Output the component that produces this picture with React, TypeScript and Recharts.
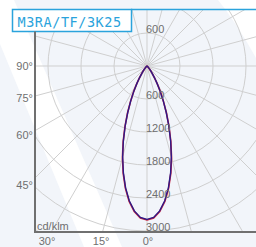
import React from "react";
import {
  PolarAngleAxis,
  PolarGrid,
  PolarRadiusAxis,
  Radar,
  RadarChart,
} from "recharts";

// gamma angles (deg from nadir) and intensities in cd/klm
const gammaDeg = [
  0, 2.5, 5, 7.5, 10, 12.5, 15, 17.5, 20, 22.5, 25, 27.5, 30, 32.5, 35, 37.5,
  40, 42.5, 45, 50, 55, 60, 90, 120, 150, 180,
];
const c0c180 = [
  2800, 2765, 2655, 2485, 2260, 2000, 1725, 1440, 1170, 925, 705, 525, 375,
  260, 170, 110, 65, 40, 22, 6, 1, 0, 0, 0, 0, 0,
];
const c90c270 = [
  2790, 2755, 2645, 2470, 2245, 1985, 1710, 1430, 1160, 915, 700, 520, 370,
  255, 168, 108, 64, 38, 21, 6, 1, 0, 0, 0, 0, 0,
];

const spokeAngles = [
  0, 15, 30, 45, 60, 75, 90, 105, 120, 135, 150, 165, 180, 195, 210, 225, 240,
  255, 270, 285, 300, 315, 330, 345,
];
const radiusTicks = [0, 600, 1200, 1800, 2400, 3000, 3600, 4200];
const sideAngleLabels = [90, 75, 60, 45];
const bottomAngleLabels = [30, 15, 0];
const title = "M3RA/TF/3K25";
const unitLabel = "cd/klm";

const rows = [
  ...gammaDeg.map((g, i) => ({ angle: g, c0: c0c180[i], c90: c90c270[i] })),
  ...gammaDeg
    .map((g, i) => ({ angle: 360 - g, c0: c0c180[i], c90: c90c270[i] }))
    .slice(1, -1)
    .reverse(),
];

// geometry of the frame (page px)
const CX = 147;
const CY = 66;
const PLOT = { left: 35, top: 10, right: 256, bottom: 232 };
const SIZE = 480;
const OUTER = 231;

const font = "'Liberation Sans', Arial, sans-serif";
const textGray = "#6f6f6f";

// radius labels go down the 0° spoke and are repeated upward;
// only the ones that land inside the frame are drawn
const RadiusTick = (props: any) => {
  const v = props.payload?.value;
  if (!v) return <g />;
  const toPage = CY - SIZE / 2;
  const downY = props.y;
  const upY = SIZE - props.y;
  const showDown = downY + toPage <= PLOT.bottom;
  const showUp = upY + toPage >= PLOT.top + 12;
  return (
    <g>
      {showDown && (
        <text
          x={props.x - 1}
          y={downY}
          textAnchor="start"
          fontSize={11}
          fontFamily={font}
          fill={textGray}
        >
          {v}
        </text>
      )}
      {showUp && (
        <text
          x={props.x - 1}
          y={upY}
          textAnchor="start"
          fontSize={11}
          fontFamily={font}
          fill={textGray}
        >
          {v}
        </text>
      )}
    </g>
  );
};

export default function App() {
  const rad = (d: number) => (d * Math.PI) / 180;
  return (
    <div
      style={{
        position: "absolute",
        left: 0,
        top: 0,
        width: 256,
        height: 247,
        background: "#f2f5fa",
        overflow: "hidden",
      }}
    >
      <svg
        width={256}
        height={247}
        style={{ position: "absolute", left: 0, top: 0 }}
      >
        <polygon points="0,0 14,0 122,247 84,247 0,44" fill="#ffffff" />
        <path d="M218,0 Q236,22 256,58 L256,0 Z" fill="#ffffff" />
      </svg>

      <div
        style={{
          position: "absolute",
          left: PLOT.left,
          top: PLOT.top,
          width: PLOT.right - PLOT.left,
          height: PLOT.bottom - PLOT.top,
          overflow: "hidden",
        }}
      >
        <div
          style={{
            position: "absolute",
            left: CX - PLOT.left - SIZE / 2,
            top: CY - PLOT.top - SIZE / 2,
          }}
        >
          <RadarChart
            width={SIZE}
            height={SIZE}
            data={rows}
            cx={SIZE / 2}
            cy={SIZE / 2}
            outerRadius={OUTER}
            startAngle={-90}
            endAngle={270}
            margin={{ top: 0, right: 0, bottom: 0, left: 0 }}
          >
            <PolarGrid gridType="circle" stroke="#cfcfcf" strokeWidth={1} />
            <PolarAngleAxis
              dataKey="angle"
              type="number"
              domain={[0, 360]}
              ticks={spokeAngles}
              tick={false}
              axisLine={false}
              tickLine={false}
            />
            <PolarRadiusAxis
              angle={-90}
              type="number"
              domain={[0, 4200]}
              ticks={radiusTicks}
              tick={RadiusTick}
              axisLine={false}
              tickLine={false}
            />
            <Radar
              dataKey="c0"
              stroke="#d0243c"
              strokeWidth={1.6}
              fill="none"
              isAnimationActive={false}
            />
            <Radar
              dataKey="c90"
              stroke="#2e1a86"
              strokeWidth={1.4}
              fill="none"
              isAnimationActive={false}
            />
          </RadarChart>
        </div>
      </div>

      <svg
        width={256}
        height={247}
        style={{ position: "absolute", left: 0, top: 0 }}
      >
        <line x1={131} y1={9.5} x2={256} y2={9.5} stroke="#2aa3dc" strokeWidth={1.5} />
        <rect
          x={12.5}
          y={9.5}
          width={119}
          height={22}
          fill="#ffffff"
          stroke="#2aa3dc"
          strokeWidth={1.5}
        />
        <text
          x={17.5}
          y={26.5}
          fontFamily="'DejaVu Sans Mono', monospace"
          fontSize={13.5}
          letterSpacing={0.55}
          fill="#2aa3dc"
        >
          {title}
        </text>
        <line x1={35} y1={31.5} x2={35} y2={233} stroke="#707070" strokeWidth={2} />
        <line x1={34} y1={232} x2={256} y2={232} stroke="#707070" strokeWidth={2} />
        <text x={37} y={230} fontFamily={font} fontSize={11} fill={textGray}>
          {unitLabel}
        </text>
        {sideAngleLabels.map((a) => (
          <text
            key={`s${a}`}
            x={33}
            y={CY + (CX - 28) * (Math.cos(rad(a)) / Math.sin(rad(a)))}
            dy="0.35em"
            textAnchor="end"
            fontFamily={font}
            fontSize={11}
            fill={textGray}
          >
            {`${a}°`}
          </text>
        ))}
        {bottomAngleLabels.map((a) => (
          <text
            key={`b${a}`}
            x={CX - (241 - CY) * Math.tan(rad(a)) + 1}
            y={245}
            textAnchor="middle"
            fontFamily={font}
            fontSize={11}
            fill={textGray}
          >
            {`${a}°`}
          </text>
        ))}
      </svg>
    </div>
  );
}
